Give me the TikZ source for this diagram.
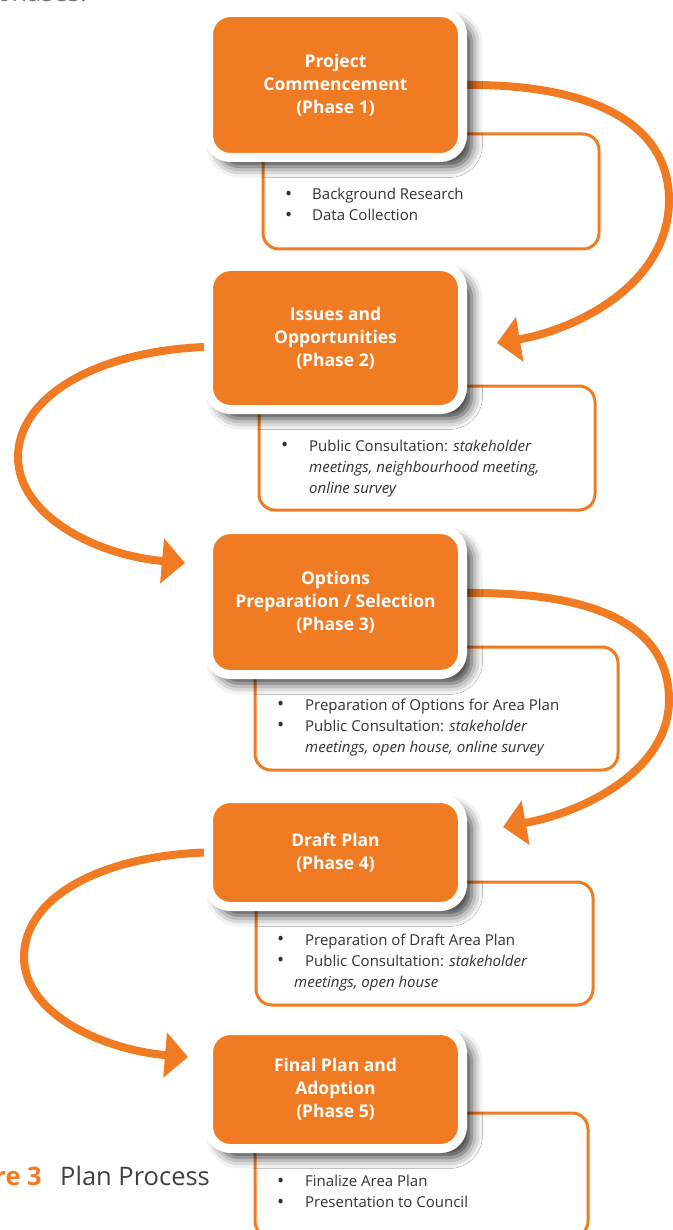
\documentclass[tikz,border=0pt]{standalone}
\usepackage{fontspec}
\setmainfont{Open Sans}
\usetikzlibrary{arrows.meta,calc,backgrounds,shadows.blur}

\definecolor{planorange}{RGB}{241,123,35}
\colorlet{itemgray}{black!80}
\colorlet{figgray}{black!75}
\colorlet{introgray}{black!55}

\newcommand{\itemfont}{\fontsize{15}{21}\selectfont}
\newcommand{\bul}{\raisebox{-0.6pt}{\fontsize{19}{19}\selectfont\textbullet}}

\begin{document}
\begin{tikzpicture}[x=1pt, y=1pt,
        phase/.style={rectangle, rounded corners=22pt, draw=white, line width=9pt,
        fill=planorange, minimum width=254pt, text=white, align=center,
        font=\fontsize{17.5}{23}\selectfont\bfseries,
        blur shadow={shadow xshift=9pt, shadow yshift=-9pt, shadow blur radius=11pt,
        shadow opacity=80}},
        detail/.style={rectangle, rounded corners=16pt, draw=planorange,
        line width=3pt, fill=white},
        itemlist/.style={anchor=west, inner sep=0pt, text=itemgray, font=\itemfont},
        flow/.style={draw=planorange, line width=8pt,
        -{Triangle[length=23pt, width=44pt]}}
        ]
    \useasboundingbox (0,0) rectangle (672,-1230);

    \node[anchor=base east, inner sep=0pt, text=introgray,
        font=\fontsize{25.5}{30}\selectfont] (intro) at (87,-2) {phases.};
    \node[anchor=base east, inner sep=0pt, text=planorange,
        font=\fontsize{25.5}{30}\selectfont\bfseries] (fig_num) at (42,-1185) {Figure 3};
    \node[anchor=base west, inner sep=0pt, text=figgray,
        font=\fontsize{25.5}{30}\selectfont] (fig_title) at (60,-1185) {Plan Process};

    % boxes with the tasks of each phase
    \node[detail, minimum width=336pt, minimum height=115pt] (d_1) at (431,-191.5) {};
    \node[detail, minimum width=336pt, minimum height=124pt] (d_2) at (427,-448) {};
    \node[detail, minimum width=363pt, minimum height=123pt] (d_3) at (436.5,-708.5) {};
    \node[detail, minimum width=337pt, minimum height=123pt] (d_4) at (424.5,-943.5) {};
    \node[detail, minimum width=333pt, minimum height=124pt] (d_5) at (421.5,-1175) {};

    \node[itemlist] (t_1) at (285,-206) {\begin{tabular}{@{}p{27pt}@{}l@{}}
        \bul & Background Research\\
        \bul & Data Collection
    \end{tabular}};
    \node[itemlist] (t_2) at (281,-468) {\begin{tabular}{@{}p{28pt}@{}l@{}}
        \bul & Public Consultation: \textit{stakeholder}\\
        & \textit{meetings, neighbourhood meeting,}\\
        & \textit{online survey}
    \end{tabular}};
    \node[itemlist] (t_3) at (277,-727) {\begin{tabular}{@{}p{28pt}@{}l@{}}
        \bul & Preparation of Options for Area Plan\\
        \bul & Public Consultation: \textit{stakeholder}\\
        & \textit{meetings, open house, online survey}
    \end{tabular}};
    \node[itemlist] (t_4) at (277,-962) {\begin{tabular}{@{}p{28pt}@{}l@{}}
        \bul & Preparation of Draft Area Plan\\
        \bul & Public Consultation: \textit{stakeholder}\\
        \multicolumn{2}{@{}l@{}}{\hspace{17pt}\textit{meetings, open house}}
    \end{tabular}};
    \node[itemlist] (t_5) at (277,-1193) {\begin{tabular}{@{}p{28pt}@{}l@{}}
        \bul & Finalize Area Plan\\
        \bul & Presentation to Council
    \end{tabular}};

    % the five phases
    \node[phase, minimum height=145pt] (p_1) at (335.5,-85) {Project\\Commencement\\(Phase 1)};
    \node[phase, minimum height=143pt] (p_2) at (335.5,-338) {Issues and\\Opportunities\\(Phase 2)};
    \node[phase, minimum height=145pt] (p_3) at (335.5,-602) {Options\\Preparation / Selection\\(Phase 3)};
    \node[phase, minimum height=108pt] (p_4) at (335.5,-852.5) {Draft Plan\\(Phase 4)};
    \node[phase, minimum height=118pt] (p_5) at (335.5,-1089.5) {Final Plan and\\Adoption\\(Phase 5)};

    \begin{scope}[on background layer]
    \draw[flow] (p_1.east) .. controls (585,-84) and (669,-120) .. (669,-200)
        .. controls (669,-285) and (575,-330) .. ($(p_2.east)+(30,-5)$);
    \draw[flow] ($(p_2.west)+(0,-9)$) .. controls (90,-352) and (18,-400) .. (18,-457)
        .. controls (18,-515) and (95,-555) .. ($(p_3.west)+(-19,39)$);
    \draw[flow] ($(p_3.east)+(0,9)$) .. controls (585,-592) and (669,-620) .. (669,-700)
        .. controls (669,-770) and (585,-812) .. ($(p_4.east)+(36,25.5)$);
    \draw[flow] (p_4.west) .. controls (95,-857) and (24,-900) .. (24,-957)
        .. controls (24,-1015) and (105,-1050) .. ($(p_5.west)+(-16,32.5)$);
    \end{scope}
\end{tikzpicture}
\end{document}
